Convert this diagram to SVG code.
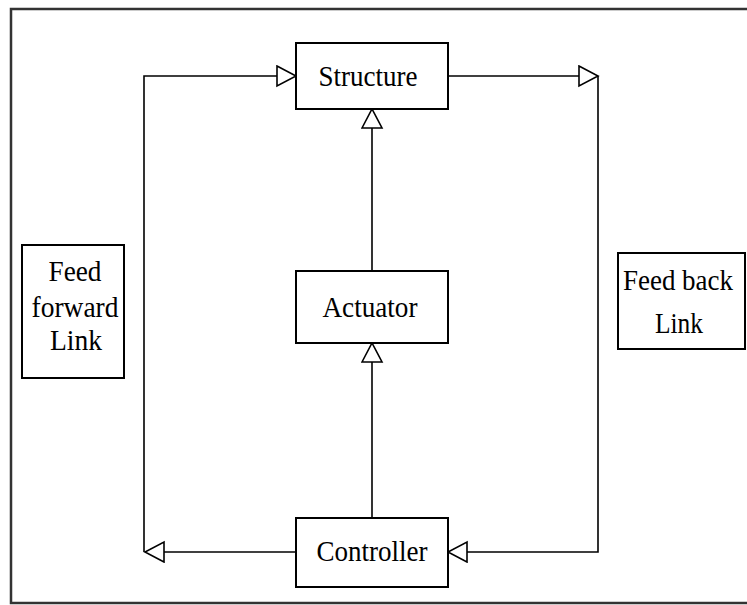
<svg xmlns="http://www.w3.org/2000/svg" width="747" height="605" viewBox="0 0 747 605">
<style>
.box{fill:#fff;stroke:#000;stroke-width:2}
.ln{fill:none;stroke:#000;stroke-width:1.6}
.t{font-family:"Liberation Serif","Times New Roman",serif;font-size:30px;fill:#000;text-anchor:middle}
</style>
<defs>
<marker id="arr" markerUnits="userSpaceOnUse" markerWidth="24" markerHeight="24" refX="21" refY="11" orient="auto">
<path d="M2,1 L21,11 L2,21 Z" fill="#fff" stroke="#000" stroke-width="1.6"/>
</marker>
</defs>
<rect x="11" y="9" width="760" height="594" fill="#fff" stroke="#333" stroke-width="2.5"/>
<g id="connectors">
<path class="ln" d="M296,552 L145,552" marker-end="url(#arr)"/>
<path class="ln" d="M144,552 L144,76 L296,76" marker-end="url(#arr)"/>
<path class="ln" d="M448,76 L598,76" marker-end="url(#arr)"/>
<path class="ln" d="M598,76 L598,552 L448,552" marker-end="url(#arr)"/>
<path class="ln" d="M372,271 L372,109" marker-end="url(#arr)"/>
<path class="ln" d="M372,518 L372,343" marker-end="url(#arr)"/>
</g>
<g id="structure">
<rect class="box" x="296" y="43" width="152" height="66"/>
<text class="t" x="368" y="86" textLength="99" lengthAdjust="spacingAndGlyphs">Structure</text>
</g>
<g id="actuator">
<rect class="box" x="296" y="271" width="152" height="72"/>
<text class="t" x="370" y="317" textLength="95" lengthAdjust="spacingAndGlyphs">Actuator</text>
</g>
<g id="controller">
<rect class="box" x="296" y="518" width="152" height="69"/>
<text class="t" x="372" y="561" textLength="111" lengthAdjust="spacingAndGlyphs">Controller</text>
</g>
<g id="feed-forward">
<rect class="box" x="22" y="245" width="102" height="133"/>
<text class="t" x="75" y="281" textLength="53" lengthAdjust="spacingAndGlyphs">Feed</text>
<text class="t" x="75" y="317" textLength="87" lengthAdjust="spacingAndGlyphs">forward</text>
<text class="t" x="76" y="350" textLength="52" lengthAdjust="spacingAndGlyphs">Link</text>
</g>
<g id="feed-back">
<rect class="box" x="618" y="253" width="127" height="96"/>
<text class="t" x="678" y="290" textLength="110" lengthAdjust="spacingAndGlyphs">Feed back</text>
<text class="t" x="679" y="333" textLength="48" lengthAdjust="spacingAndGlyphs">Link</text>
</g>
</svg>
